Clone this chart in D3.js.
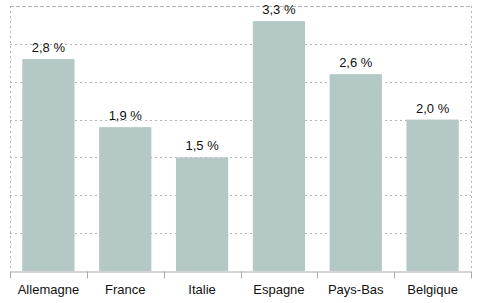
<!DOCTYPE html>
<html>
<head>
<meta charset="utf-8">
<script src="https://cdn.jsdelivr.net/npm/d3@7"></script>
<style>
body { margin: 0; background: #fff; }
svg text { font-family: "Liberation Sans", Arial, sans-serif; font-size: 13px; fill: #111; }
</style>
</head>
<body>
<div class="chart"></div>
<script>
var countries = ['Allemagne', 'France', 'Italie', 'Espagne', 'Pays-Bas', 'Belgique'];
var rates = [2.8, 1.9, 1.5, 3.3, 2.6, 2.0];
var gridTicks = [0, 0.5, 1, 1.5, 2, 2.5, 3, 3.5];

var width = 481, height = 303;
var margin = {top: 6, right: 10, bottom: 32, left: 10};

var svg = d3.select('div.chart')
.append('svg')
.attr('width', width)
.attr('height', height)
;

var x = d3.scaleBand()
.domain(countries)
.range([margin.left, width - margin.right])
.paddingInner(0.32)
.paddingOuter(0.16)
;

var xTicks = d3.scaleBand()
.domain(countries)
.range([margin.left, width - margin.right])
;

var y = d3.scaleLinear()
.domain([0, 3.5])
.range([height - margin.bottom, margin.top])
;

// gridlines
svg.append('g')
.selectAll('line')
.data(gridTicks.slice(1))
.enter()
.append('line')
.attr('x1', margin.left)
.attr('x2', width - margin.right)
.attr('y1', function(d){return Math.round(y(d)) + 0.5})
.attr('y2', function(d){return Math.round(y(d)) + 0.5})
.attr('stroke', '#b4b4b4')
.attr('stroke-dasharray', function(d){return d == 3.5 ? '4,2' : '2,3'})
;

// side lines
svg.append('g')
.selectAll('line')
.data([margin.left, width - margin.right])
.enter()
.append('line')
.attr('x1', function(d){return d + 0.5})
.attr('x2', function(d){return d + 0.5})
.attr('y1', y(3.5))
.attr('y2', y(0))
.attr('stroke', '#b4b4b4')
.attr('stroke-dasharray', '2,3')
;

// bars
svg.append('g')
.selectAll('rect')
.data(countries)
.enter()
.append('rect')
.attr('x', function(d){return x(d)})
.attr('width', x.bandwidth())
.attr('y', function(d, i){return y(rates[i])})
.attr('height', function(d, i){return y(0) - y(rates[i])})
.attr('fill', '#b4c9c6')
;

// value labels
svg.append('g')
.selectAll('text')
.data(countries)
.enter()
.append('text')
.attr('x', function(d){return x(d) + x.bandwidth() / 2})
.attr('y', function(d, i){return y(rates[i]) - 7})
.attr('text-anchor', 'middle')
.text(function(d, i){return rates[i].toFixed(1).replace('.', ',') + ' %'})
;

// x axis
var xAxis = d3.axisBottom(xTicks)
.tickSize(0)
.tickPadding(0)
;

var gx = svg.append('g')
.attr('transform', 'translate(0,' + (y(0) + 0.5) + ')')
.call(xAxis)
;
gx.select('.domain').attr('stroke', '#aaa');
gx.selectAll('text')
.attr('dy', null)
.attr('y', 22)
.style('font-size', '13px')
.attr('fill', '#111')
;

// tick marks at band edges
var edges = countries.map(function(d){return xTicks(d)}).concat([width - margin.right]);
gx.selectAll('.edge')
.data(edges)
.enter()
.append('line')
.attr('class', 'edge')
.attr('x1', function(d){return Math.round(d) + 0.5})
.attr('x2', function(d){return Math.round(d) + 0.5})
.attr('y1', 0)
.attr('y2', 7)
.attr('stroke', '#aaa')
;
</script>
</body>
</html>
